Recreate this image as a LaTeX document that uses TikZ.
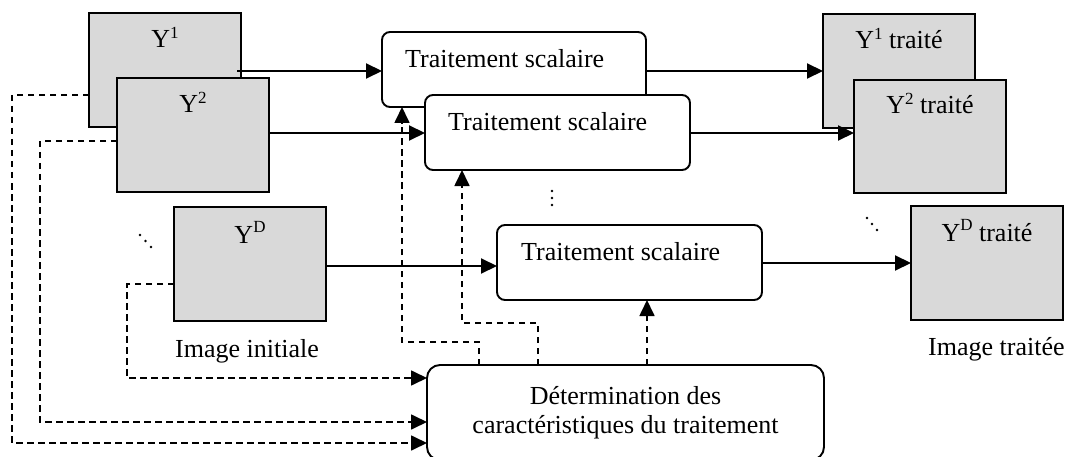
\documentclass[tikz,border=0pt]{standalone}
\usepackage{fontspec}
\setmainfont{Liberation Serif}
\usetikzlibrary{arrows.meta}
\definecolor{imgfill}{RGB}{217,217,217}
% raised small exponent: #1 = raise, #2 = text
\newcommand{\expo}[2]{\raisebox{#1}{\fontsize{17}{17}\selectfont #2}}

\begin{document}
\begin{tikzpicture}[x=1pt,y=-1pt,
  every node/.style={font=\fontsize{26}{30}\selectfont},
  plane/.style={draw, line width=1.9pt, fill=imgfill, minimum width=152pt,
    minimum height=114pt, inner sep=0pt, outer sep=0pt, anchor=north west},
  proc/.style={draw, line width=1.9pt, fill=white, rounded corners=8pt,
    minimum width=265pt, minimum height=75pt, inner sep=0pt, outer sep=0pt,
    anchor=north west},
  txt/.style={inner sep=0pt, anchor=base},
  flow/.style={line width=2pt, -{Triangle[length=16pt,width=15pt]}},
  ctrl/.style={line width=1.7pt, dash pattern=on 6.5pt off 4.5pt,
    -{Triangle[length=16pt,width=15pt]}},
  dot/.style={circle, fill, inner sep=0pt, minimum size=2.8pt}
]
\clip (0,0) rectangle (1067,457);

% input planes
\node[plane] (y1) at (89,13) {};
\node[plane] (y2) at (117,78) {};
\node[plane] (yd) at (174,207) {};
\node[txt] (y1l) at ([yshift=-35pt]y1.north) {Y\expo{9pt}{1}};
\node[txt] (y2l) at ([yshift=-35pt]y2.north) {Y\expo{9pt}{2}};
\node[txt] (ydl) at ([yshift=-36pt]yd.north) {Y\expo{11pt}{D}};
\node[txt, anchor=base west] (inl) at (175,357) {Image initiale};

% scalar processing blocks
\node[proc, minimum width=264pt] (ts1) at (382,32) {};
\node[proc] (ts2) at (425,95) {};
\node[proc] (ts3) at (497,225) {};
\node[txt, anchor=base west] (ts1l) at ([xshift=23pt,yshift=-36pt]ts1.north west) {Traitement scalaire};
\node[txt, anchor=base west] (ts2l) at ([xshift=23pt,yshift=-36pt]ts2.north west) {Traitement scalaire};
\node[txt, anchor=base west] (ts3l) at ([xshift=24pt,yshift=-35pt]ts3.north west) {Traitement scalaire};

% output planes
\node[plane] (o1) at (823,14) {};
\node[plane, minimum height=113pt] (o2) at (854,80) {};
\node[plane] (od) at (911,206) {};
\node[txt] (o1l) at ([yshift=-35pt]o1.north) {Y\expo{9pt}{1} traité};
\node[txt] (o2l) at ([yshift=-34pt]o2.north) {Y\expo{9pt}{2} traité};
\node[txt] (odl) at ([yshift=-35pt]od.north) {Y\expo{11pt}{D} traité};
\node[txt, anchor=base west] (outl) at (928,355) {Image traitée};

% parameter estimation block
\node[draw, line width=1.9pt, fill=white, rounded corners=13pt,
  minimum width=397pt, minimum height=95pt, inner sep=0pt, outer sep=0pt,
  anchor=north west] (det) at (427,365) {};
\node[txt] (detl1) at (625.5,404) {Détermination des};
\node[txt] (detl2) at (625.5,433) {caractéristiques du traitement};

% ellipsis dots
\node[dot] (da1) at (140,235) {};
\node[dot] (da2) at (145.5,241) {};
\node[dot] (da3) at (151,247) {};
\node[dot] (dv1) at (552,191) {};
\node[dot] (dv2) at (552,198) {};
\node[dot] (dv3) at (552,205) {};
\node[dot] (db1) at (867,218) {};
\node[dot] (db2) at (872,224) {};
\node[dot] (db3) at (877,230) {};

% data flow
\draw[flow] ([xshift=-4pt,yshift=-1pt]y1.east) -- (ts1.west |- 0,71);
\draw[flow] (ts1.east |- 0,71) -- (o1.west |- 0,71);
\draw[flow] (y2.east |- 0,133) -- (ts2.west |- 0,133);
\draw[flow] (ts2.east |- 0,133) -- (o2.west |- 0,133);
\draw[flow] (yd.east |- 0,266) -- (ts3.west |- 0,266);
\draw[flow] (ts3.east |- 0,263) -- (od.west |- 0,263);

% routing points of the control lines
\coordinate (a1) at (12,443);
\coordinate (a2) at (40,422);
\coordinate (a3) at (127,378);
\coordinate (k1) at (479,342);
\coordinate (k2) at (402,342);
\coordinate (m1) at (538,323);
\coordinate (m2) at (462,323);
\coordinate (n1) at (647,300);

% planes feeding the estimation block
\draw[ctrl] ([yshift=32pt]y1.south west) -| (a1) -- (a1 -| det.west);
\draw[ctrl] ([yshift=51pt]y2.south west) -| (a2) -- (a2 -| det.west);
\draw[ctrl] ([yshift=37pt]yd.south west) -| (a3) -- (a3 -| det.west);

% estimated parameters sent to each block
\draw[ctrl] (k1 |- det.north) -- (k1) -- (k2) -- (k2 |- ts1.south);
\draw[ctrl] (m1 |- det.north) -- (m1) -- (m2) -- (m2 |- ts2.south);
\draw[ctrl] (n1 |- det.north) -- (n1 |- ts3.south);
\end{tikzpicture}
\end{document}
